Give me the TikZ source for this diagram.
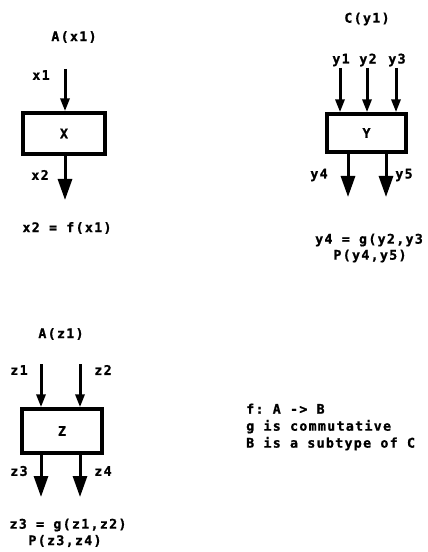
\documentclass[tikz,border=0pt]{standalone}
\usepackage{fontspec}
\setmonofont[LetterSpace=10, BoldFeatures={FakeBold=1.2}]{DejaVu Sans Mono}
\usetikzlibrary{arrows.meta}
\begin{document}
\begin{tikzpicture}[x=1bp,y=-1bp,
  every node/.style={font=\fontsize{13.3}{17}\selectfont\ttfamily\bfseries, inner sep=0pt},
  box/.style={draw, line width=3.4bp},
  inarrow/.style={line width=3bp, -{Triangle[width=9bp,length=13bp]}},
  outarrow/.style={line width=3bp, -{Triangle[width=14bp,length=21bp]}}]
\useasboundingbox (0,0) rectangle (427,552);

% ---- X group
\node (tA) at (74,37) {A(x1)};
\node (lx1) at (41,75) {x1};
\node[box, minimum width=82bp, minimum height=41bp] (X) at (64,133.5) {X};
\coordinate (x1s) at (65,69);
\draw[inarrow] (x1s) -- (x1s |- X.north);
\coordinate (x2e) at (65,200);
\draw[outarrow] (x2e |- X.south) -- (x2e);
\node (lx2) at (40,175) {x2};
\node (fx) at (67,228) {x2 = f(x1)};

% ---- Y group
\node (tC) at (367,19) {C(y1)};
\node (ly1) at (341,60) {y1};
\node (ly2) at (368,60) {y2};
\node (ly3) at (397,60) {y3};
\node[box, minimum width=79bp, minimum height=38bp] (Y) at (366.5,133) {Y};
\coordinate (y1s) at (340,68);
\coordinate (y2s) at (367,68);
\coordinate (y3s) at (396,68);
\draw[inarrow] (y1s) -- (y1s |- Y.north);
\draw[inarrow] (y2s) -- (y2s |- Y.north);
\draw[inarrow] (y3s) -- (y3s |- Y.north);
\coordinate (y4e) at (348,197);
\coordinate (y5e) at (386,197);
\draw[outarrow] (y4e |- Y.south) -- (y4e);
\draw[outarrow] (y5e |- Y.south) -- (y5e);
\node (ly4) at (319,175) {y4};
\node (ly5) at (404,175) {y5};
\node[anchor=west] (fy) at (315,240) {y4 = g(y2,y3};
\node (py) at (370,256) {P(y4,y5)};

% ---- Z group
\node (tAz) at (61,334) {A(z1)};
\node (lz1) at (19,370) {z1};
\node (lz2) at (103,370) {z2};
\node[box, minimum width=80bp, minimum height=44bp] (Z) at (62,431) {Z};
\coordinate (z1s) at (41,364);
\coordinate (z2s) at (80,364);
\draw[inarrow] (z1s) -- (z1s |- Z.north);
\draw[inarrow] (z2s) -- (z2s |- Z.north);
\coordinate (z3e) at (41,497);
\coordinate (z4e) at (80,497);
\draw[outarrow] (z3e |- Z.south) -- (z3e);
\draw[outarrow] (z4e |- Z.south) -- (z4e);
\node (lz3) at (19,471) {z3};
\node (lz4) at (103,471) {z4};
\node (fz) at (68,525) {z3 = g(z1,z2)};
\node (pz) at (65,541) {P(z3,z4)};

% ---- notes
\node[align=left, anchor=west] (notes) at (246,427) {f: A -> B\\g is commutative\\B is a subtype of C};
\end{tikzpicture}
\end{document}
